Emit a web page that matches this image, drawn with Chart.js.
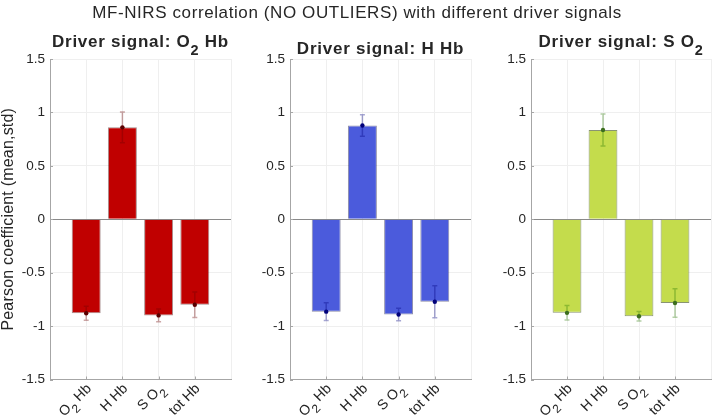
<!DOCTYPE html>
<html><head><meta charset="utf-8">
<script src="https://cdn.jsdelivr.net/npm/chart.js@4"></script>
<style>
html,body{margin:0;padding:0;background:#fff;}
#wrap{position:relative;width:714px;height:419px;overflow:hidden;}
canvas{position:absolute;left:0;top:0;}
</style></head><body>
<div id="wrap">
<canvas id="c0" width="714" height="419"></canvas>
<canvas id="c1" width="714" height="419"></canvas>
<canvas id="c2" width="714" height="419"></canvas>
</div>
<script>
// ---- data ----
const categories = ['O_2 Hb', 'H Hb', 'S O_2', 'tot Hb'];
const driverSignals = ['O_2 Hb', 'H Hb', 'S O_2'];
const meanO2Hb = [-0.88, 0.86, -0.90, -0.80];
const stdO2Hb  = [0.065, 0.145, 0.06, 0.12];
const meanHHb  = [-0.865, 0.877, -0.892, -0.772];
const stdHHb   = [0.083, 0.10, 0.058, 0.15];
const meanSO2  = [-0.876, 0.836, -0.908, -0.784];
const stdSO2   = [0.068, 0.15, 0.045, 0.133];
const yTicks = [-1.5, -1, -0.5, 0, 0.5, 1, 1.5];
const mainTitle = 'MF-NIRS correlation (NO OUTLIERS) with different driver signals';
const yAxisLabel = 'Pearson coefficient (mean,std)';

// ---- styling / layout ----
const FONT = '"Liberation Sans", Arial, Helvetica, sans-serif';
const TXT = '#262626';
const AXIS = '#a6a6a6';
const GRID = '#efefef';
const panels = [
  {means: meanO2Hb, stds: stdO2Hb, fill: '#c00000', edge: 'rgba(60,0,0,0.45)', err: 'rgba(110,0,0,0.35)', dot: '#5a0000', left: 50, right: 231},
  {means: meanHHb,  stds: stdHHb,  fill: '#4b5bdc', edge: 'rgba(0,0,60,0.45)', err: 'rgba(0,0,130,0.35)', dot: '#00007a', left: 290, right: 471},
  {means: meanSO2,  stds: stdSO2,  fill: '#c4dc4c', edge: 'rgba(40,60,0,0.55)', err: 'rgba(40,120,0,0.35)', dot: '#3c6e1e', left: 531, right: 711}
];
const TOP = 59, BOTTOM = 379.5, YAXW = 40;

function parseTex(str) {
  const out = []; let buf = '';
  for (let i = 0; i < str.length; i++) {
    if (str[i] === '_' && i + 1 < str.length) {
      if (buf) { out.push({t: buf, sub: false}); buf = ''; }
      out.push({t: str[i + 1], sub: true}); i++;
    } else buf += str[i];
  }
  if (buf) out.push({t: buf, sub: false});
  return out;
}
function drawRich(ctx, str, x, y, align, size, weight, spacing) {
  const segs = parseTex(str);
  const subSize = size * 0.85;
  const sp = spacing || 0;
  ctx.save();
  if ('letterSpacing' in ctx) ctx.letterSpacing = sp + 'px';
  let total = 0;
  segs.forEach(s => {
    ctx.font = weight + ' ' + (s.sub ? subSize : size) + 'px ' + FONT;
    s.w = ctx.measureText(s.t).width; total += s.w;
  });
  let cx = align === 'center' ? x - total / 2 : (align === 'right' ? x - total : x);
  ctx.textAlign = 'left';
  ctx.textBaseline = 'alphabetic';
  segs.forEach(s => {
    ctx.font = weight + ' ' + (s.sub ? subSize : size) + 'px ' + FONT;
    ctx.fillText(s.t, cx, s.sub ? y + size * 0.45 : y);
    cx += s.w;
  });
  ctx.restore();
}

function makeChart(idx) {
  const p = panels[idx];
  const hasSub = driverSignals[idx].indexOf('_') >= 0;
  const deco = {
    id: 'deco' + idx,
    afterDatasetsDraw(chart) {
      const ctx = chart.ctx, xs = chart.scales.x, ys = chart.scales.y, a = chart.chartArea;
      ctx.save();
      // error bars
      ctx.strokeStyle = p.err; ctx.lineWidth = 1.5;
      ctx.beginPath();
      p.means.forEach((m, i) => {
        const x = xs.getPixelForValue(i + 1);
        const yt = ys.getPixelForValue(m + p.stds[i]);
        const yb = ys.getPixelForValue(m - p.stds[i]);
        ctx.moveTo(x, yt); ctx.lineTo(x, yb);
        ctx.moveTo(x - 2.5, yt); ctx.lineTo(x + 2.5, yt);
        ctx.moveTo(x - 2.5, yb); ctx.lineTo(x + 2.5, yb);
      });
      ctx.stroke();
      ctx.fillStyle = p.dot;
      p.means.forEach((m, i) => {
        ctx.beginPath();
        ctx.arc(xs.getPixelForValue(i + 1), ys.getPixelForValue(m), 2.2, 0, Math.PI * 2);
        ctx.fill();
      });
      // inward tick marks
      ctx.strokeStyle = AXIS; ctx.lineWidth = 1;
      ctx.beginPath();
      yTicks.forEach(v => { const y = Math.round(ys.getPixelForValue(v)) + 0.5; ctx.moveTo(a.left, y); ctx.lineTo(a.left + 3, y); });
      categories.forEach((c, i) => { const x = Math.round(xs.getPixelForValue(i + 1)) + 0.5; ctx.moveTo(x, a.bottom); ctx.lineTo(x, a.bottom - 3); });
      ctx.stroke();
      // x tick labels (rotated)
      ctx.fillStyle = TXT;
      categories.forEach((c, i) => {
        const x = xs.getPixelForValue(i + 1);
        ctx.save();
        ctx.translate(x + 3, a.bottom + 7);
        ctx.rotate(-Math.PI / 4);
        drawRich(ctx, c, 0, 4, 'right', 14, 'normal', 0);
        ctx.restore();
      });
      // subplot title
      drawRich(ctx, 'Driver signal: ' + driverSignals[idx], (a.left + a.right) / 2, hasSub ? 47 : 54, 'center', 17, 'bold', 0.75);
      if (idx === 0) {
        drawRich(ctx, mainTitle, 357, 18, 'center', 17, 'normal', 0.6);
        ctx.save();
        ctx.translate(12.5, (a.top + a.bottom) / 2);
        ctx.rotate(-Math.PI / 2);
        drawRich(ctx, yAxisLabel, 0, 0, 'center', 16, 'normal', 0.2);
        ctx.restore();
      }
      ctx.restore();
    }
  };
  return new Chart(document.getElementById('c' + idx), {
    type: 'bar',
    data: {
      datasets: [{
        data: p.means.map((v, i) => ({x: i + 1, y: v})),
        backgroundColor: p.fill,
        borderColor: p.edge,
        borderWidth: 1,
        barPercentage: 0.8,
        categoryPercentage: 1.0
      }]
    },
    options: {
      responsive: false, animation: false, events: [],
      layout: {padding: {left: p.left - YAXW, right: 714 - p.right, top: TOP, bottom: 419 - BOTTOM}},
      plugins: {legend: {display: false}, title: {display: false}, tooltip: {enabled: false}},
      scales: {
        x: {
          type: 'linear', min: 0, max: 5, offset: false,
          ticks: {display: false, stepSize: 1},
          grid: {color: GRID, drawTicks: false, offset: false},
          border: {color: AXIS},
          afterFit: s => { s.height = 0; }
        },
        y: {
          type: 'linear', min: -1.5, max: 1.5,
          afterBuildTicks: s => { s.ticks = yTicks.map(v => ({value: v})); },
          ticks: {font: {family: FONT, size: 13.5}, color: TXT, padding: 5, callback: v => String(v)},
          grid: {color: c => (c.tick && c.tick.value === 0) ? '#8a8a8a' : GRID, drawTicks: false},
          border: {color: AXIS},
          afterFit: s => { s.width = YAXW; }
        }
      }
    },
    plugins: [deco]
  });
}
[0, 1, 2].forEach(makeChart);
</script>
</body></html>
